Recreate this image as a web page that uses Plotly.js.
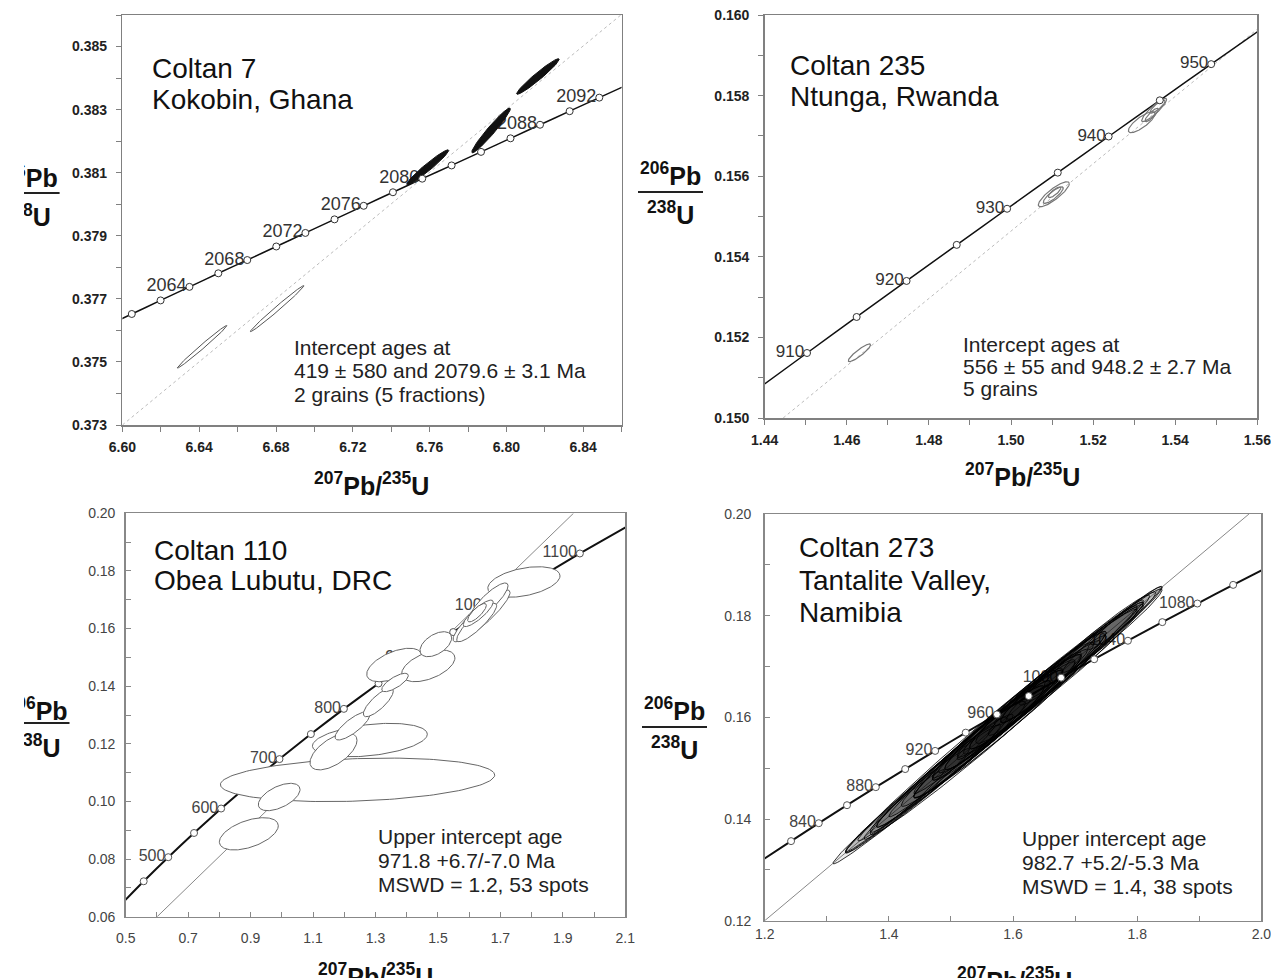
<!DOCTYPE html>
<html><head><meta charset="utf-8">
<script src="https://cdn.plot.ly/plotly-3.0.1.min.js"></script>
<style>html,body{margin:0;padding:0;background:#fff;overflow:hidden}</style>
</head><body><div id="chart" style="width:1271px;height:978px"></div>
<script>
// ---------------- DATA ----------------
// Panel 1: Coltan 7, Kokobin, Ghana (concordia points, Ma)
const p1Age = [2058,2060,2062,2064,2066,2068,2070,2072,2074,2076,2078,2080,2082,2084,2086,2088,2090,2092,2094];
const p1X = [6.58993,6.60489,6.61988,6.63491,6.64996,6.66504,6.68015,6.69530,6.71047,6.72567,6.74090,6.75616,6.77145,6.78678,6.80213,6.81751,6.83293,6.84837,6.86384];
const p1Y = [0.37609,0.37652,0.37695,0.37738,0.37781,0.37823,0.37866,0.37909,0.37952,0.37995,0.38038,0.38081,0.38123,0.38166,0.38209,0.38252,0.38295,0.38338,0.38381];
const p1Labels = [2064,2068,2072,2076,2080,2088,2092];
const p1DiscX = [6.60,6.86], p1DiscY = [0.373,0.38602];
const p1EllCx = [6.6415,6.6806,6.7590,6.7920,6.8164];
const p1EllCy = [0.37548,0.37669,0.38117,0.38234,0.38405];
const p1EllSx = [0.0129,0.01395,0.01095,0.01005,0.0111];
const p1EllSy = [0.000675,0.00073,0.000555,0.00071,0.000565];
const p1EllRho = [0.992,0.992,0.966,0.966,0.966];
const p1EllFilled = [false,false,true,true,true];

// Panel 2: Coltan 235, Ntunga, Rwanda
const p2Age = [905,910,915,920,925,930,935,940,945,950,955];
const p2X = [1.43827,1.45031,1.46240,1.47456,1.48678,1.49905,1.51139,1.52379,1.53625,1.54877,1.56135];
const p2Y = [0.150720,0.151613,0.152507,0.153401,0.154296,0.155192,0.156088,0.156985,0.157883,0.158781,0.159680];
const p2Labels = [910,920,930,940,950];
const p2DiscX = [1.4445,1.56], p2DiscY = [0.150,0.15965];
const p2EllCx = [1.46309,1.51043,1.51030,1.51060,1.53184,1.53488,1.53427,1.53569];
const p2EllCy = [0.151618,0.155553,0.155530,0.155600,0.157340,0.157643,0.157519,0.157725];
const p2EllSx = [0.00273,0.00378,0.00244,0.00150,0.00325,0.00305,0.00163,0.00183];
const p2EllSy = [0.000219,0.000310,0.000206,0.000130,0.000260,0.000290,0.000166,0.000161];
const p2EllRho = [0.90,0.85,0.85,0.80,0.80,0.90,0.85,0.85];

// Panel 3: Coltan 110, Obea Lubutu, DRC
const p3Age = [400,450,500,550,600,650,700,750,800,850,900,950,1000,1050,1100,1150];
const p3X = [0.48281,0.55766,0.63628,0.71887,0.80563,0.89677,0.99251,1.09308,1.19873,1.30971,1.42630,1.54876,1.67741,1.81255,1.95452,2.10365];
const p3Y = [0.06402,0.07230,0.08065,0.08906,0.09754,0.10609,0.11470,0.12338,0.13213,0.14094,0.14983,0.15878,0.16780,0.17690,0.18606,0.19530];
const p3Labels = [500,600,700,800,900,1000,1100];
const p3DiscX = [0.6007,1.934], p3DiscY = [0.06,0.20];
const p3EllCx = [1.2425,1.282,0.8943,0.9915,1.1655,1.3599,1.469,1.4932,1.2264,1.309,1.3625,1.7753,1.6395,1.6636,1.624,1.629,1.625];
const p3EllCy = [0.1075,0.1213,0.08876,0.10154,0.11735,0.14736,0.14706,0.15457,0.12624,0.13434,0.14128,0.17616,0.1644,0.16942,0.1621,0.16528,0.1655];
const p3EllSx = [0.4393,0.184,0.0944,0.0668,0.0753,0.0881,0.0853,0.0507,0.056,0.048,0.0426,0.1156,0.0913,0.0609,0.064,0.048,0.030];
const p3EllSy = [0.00755,0.0058,0.0056,0.00475,0.0064,0.0058,0.0055,0.00434,0.00491,0.00493,0.00319,0.0053,0.0090,0.0064,0.00666,0.0046,0.0032];
const p3EllRho = [0.22,0.35,0.5,0.55,0.6,0.55,0.5,0.5,0.8,0.8,0.75,0.4,0.9,0.85,0.88,0.85,0.8];

// Panel 4: Coltan 273, Tantalite Valley, Namibia
const p4Age = [800,820,840,860,880,900,920,940,960,980,1000,1020,1040,1060,1080,1100,1120];
const p4X = [1.19873,1.24247,1.28708,1.33257,1.37897,1.42629,1.47456,1.52378,1.57399,1.62519,1.67741,1.73067,1.78499,1.84039,1.89689,1.95451,2.01328];
const p4Y = [0.13213,0.13565,0.13918,0.14272,0.14627,0.14983,0.15340,0.15699,0.16058,0.16419,0.16781,0.17143,0.17507,0.17873,0.18239,0.18606,0.18975];
const p4Labels = [840,880,920,960,1000,1040,1080];
const p4DiscX = [1.2,1.98], p4DiscY = [0.12,0.20];
const p4EllCx = [1.575,1.58,1.60,1.56,1.62,1.55,1.64,1.59,1.61,1.53,1.66,1.57,1.63,1.60,1.54,1.68,1.58,1.62,1.50,1.70,1.65,1.56,1.61,1.47,1.72,1.59,1.64,1.52,1.45,1.74,1.43,1.76,1.66,1.57,1.41,1.78,1.62,1.54];
const p4EllCy = [0.15848,0.15939,0.16104,0.15654,0.16349,0.15591,0.16514,0.15961,0.16247,0.15386,0.16720,0.15756,0.16452,0.16104,0.15488,0.16885,0.15939,0.16309,0.15078,0.17090,0.16657,0.15694,0.16207,0.14730,0.17375,0.16001,0.16514,0.15243,0.14595,0.17540,0.14360,0.17706,0.16760,0.15796,0.14155,0.17951,0.16309,0.15488];
const p4EllSx = [0.265,0.23,0.20,0.19,0.18,0.17,0.17,0.15,0.14,0.15,0.15,0.13,0.12,0.11,0.12,0.12,0.10,0.09,0.13,0.11,0.08,0.09,0.07,0.11,0.10,0.06,0.06,0.08,0.12,0.09,0.10,0.08,0.05,0.05,0.08,0.06,0.04,0.05];
const p4EllSy = [0.0273,0.0237,0.0206,0.0196,0.0185,0.0175,0.0175,0.0155,0.0144,0.0155,0.0155,0.0134,0.0124,0.0113,0.0124,0.0124,0.0103,0.0093,0.0134,0.0113,0.0082,0.0093,0.0072,0.0113,0.0103,0.0062,0.0062,0.0082,0.0124,0.0093,0.0103,0.0082,0.0052,0.0052,0.0082,0.0062,0.0041,0.0052];
const p4EllRho = [0.996,0.994,0.993,0.99,0.992,0.99,0.99,0.985,0.985,0.988,0.988,0.98,0.98,0.975,0.98,0.98,0.97,0.965,0.985,0.98,0.96,0.965,0.95,0.985,0.98,0.95,0.95,0.97,0.99,0.98,0.985,0.975,0.94,0.94,0.985,0.97,0.93,0.95];

// ---------------- BUILD ----------------
const W = 1271, H = 978;
const PX = v => v / W, PY = v => 1 - v / H;
const fam = 'Liberation Sans, Arial, Helvetica, sans-serif';

function ellipse(cx, cy, sx, sy, r, n) {
  n = n || 120;
  const xs = [], ys = [], q = Math.sqrt(1 - r * r);
  for (let i = 0; i <= n; i++) {
    const t = 2 * Math.PI * i / n, c = Math.cos(t), s = Math.sin(t);
    xs.push(cx + sx * c); ys.push(cy + sy * (r * c + q * s));
  }
  return [xs, ys];
}
function pick(ages, arr, sel) { return sel.map(a => arr[ages.indexOf(a)]); }
function inner(arr) { return arr.slice(1, arr.length - 1); }

const traces = [];
function panel(k, o) {
  const xa = k === 1 ? 'x' : 'x' + k, ya = k === 1 ? 'y' : 'y' + k;
  const base = {xaxis: xa, yaxis: ya, showlegend: false, hoverinfo: 'skip'};
  traces.push(Object.assign({}, base, {type: 'scatter', mode: 'lines', x: o.dx, y: o.dy, line: o.discLine}));
  traces.push(Object.assign({}, base, {type: 'scatter', mode: 'lines', x: o.cx, y: o.cy,
    line: {color: '#111', width: o.concW, shape: 'spline', smoothing: 0.6}}));
  const markerTrace = Object.assign({}, base, {type: 'scatter', mode: 'markers', x: inner(o.cx), y: inner(o.cy),
    marker: {symbol: 'circle', size: o.mSize, color: '#fff', line: {color: o.mColor, width: 1}}});
  if (o.markersBelow) traces.push(markerTrace);
  traces.push(Object.assign({}, base, {type: 'scatter', mode: 'markers+text',
    x: pick(o.ages, o.cx, o.labels), y: pick(o.ages, o.cy, o.labels),
    text: o.labels.map(String), textposition: 'middle left',
    marker: {size: 3, color: 'rgba(0,0,0,0)'},
    textfont: {family: fam, size: o.labSize, color: o.labColor}}));
  o.ex.forEach((_, i) => {
    const e = ellipse(o.ex[i], o.ey[i], o.esx[i], o.esy[i], o.er[i], 160);
    const filled = o.efilled ? o.efilled[i] : false;
    traces.push(Object.assign({}, base, {type: 'scatter', mode: 'lines', x: e[0], y: e[1],
      fill: (filled || o.ellFill) ? 'toself' : 'none',
      fillcolor: filled ? '#111' : (o.ellFill || 'rgba(0,0,0,0)'),
      line: filled ? {color: '#111', width: 1} : o.ellLine}));
  });
  if (!o.markersBelow) traces.push(markerTrace);
}

panel(1, {cx: p1X, cy: p1Y, ages: p1Age, labels: p1Labels, dx: p1DiscX, dy: p1DiscY,
  discLine: {color: '#bbb', width: 1, dash: 'dot'}, concW: 1.5, mSize: 7, mColor: '#333',
  labSize: 18, labColor: '#333', ex: p1EllCx, ey: p1EllCy, esx: p1EllSx, esy: p1EllSy, er: p1EllRho,
  efilled: p1EllFilled, ellLine: {color: '#555', width: 1}});
panel(2, {cx: p2X, cy: p2Y, ages: p2Age, labels: p2Labels, dx: p2DiscX, dy: p2DiscY,
  discLine: {color: '#bbb', width: 1, dash: 'dot'}, concW: 1.5, mSize: 7, mColor: '#333',
  labSize: 17, labColor: '#333', ex: p2EllCx, ey: p2EllCy, esx: p2EllSx, esy: p2EllSy, er: p2EllRho,
  ellLine: {color: '#777', width: 1.2}});
panel(3, {cx: p3X, cy: p3Y, ages: p3Age, labels: p3Labels, dx: p3DiscX, dy: p3DiscY,
  discLine: {color: '#888', width: 1}, concW: 2, mSize: 7, mColor: '#555', markersBelow: true,
  labSize: 16, labColor: '#444', ex: p3EllCx, ey: p3EllCy, esx: p3EllSx, esy: p3EllSy, er: p3EllRho,
  ellFill: '#fff', ellLine: {color: '#666', width: 1}});
panel(4, {cx: p4X, cy: p4Y, ages: p4Age, labels: p4Labels, dx: p4DiscX, dy: p4DiscY,
  discLine: {color: '#888', width: 1}, concW: 2, mSize: 7, mColor: '#555',
  labSize: 16, labColor: '#444', ex: p4EllCx, ey: p4EllCy, esx: p4EllSx, esy: p4EllSy, er: p4EllRho,
  ellFill: 'rgba(0,0,0,0.07)', ellLine: {color: '#000', width: 0.8}});

function ax(o) {
  const bold = o.bold;
  return {
    domain: o.domain, range: o.range, anchor: o.anchor, tick0: o.tick0, dtick: o.dtick,
    tickformat: o.fmt, ticks: o.ticks, ticklen: 5, tickwidth: 1, tickcolor: o.lc,
    minor: {tick0: o.tick0, dtick: o.mdtick, ticks: o.ticks, ticklen: 5, tickwidth: 1, tickcolor: o.lc, showgrid: false},
    showline: true, mirror: true, linecolor: o.lc, linewidth: 1.5,
    showgrid: false, zeroline: false, fixedrange: true,
    ticklabelstandoff: o.standoff || 0, ticklabeloverflow: 'allow',
    tickfont: {family: fam, size: 14, color: bold ? '#222' : '#444', weight: bold ? 'bold' : 'normal'}
  };
}
function hiddenAx(domain, range, anchor) {
  return {domain: domain, range: range, anchor: anchor, visible: false, fixedrange: true, showgrid: false, zeroline: false};
}

const layout = {
  width: W, height: H, margin: {l: 0, r: 0, t: 0, b: 0}, autosize: false,
  paper_bgcolor: '#fff', plot_bgcolor: 'rgba(0,0,0,0)', showlegend: false,
  xaxis: ax({domain: [PX(122.4), PX(621.6)], range: [6.60, 6.86], anchor: 'y', tick0: 6.60, dtick: 0.04, mdtick: 0.02, fmt: '.2f', ticks: 'outside', lc: '#808080', bold: true, standoff: 4}),
  yaxis: ax({domain: [PY(425), PY(15)], range: [0.373, 0.386], anchor: 'x', tick0: 0.373, dtick: 0.002, mdtick: 0.001, fmt: '.3f', ticks: 'outside', lc: '#808080', bold: true, standoff: 6}),
  xaxis2: ax({domain: [PX(764.7), PX(1257.3)], range: [1.44, 1.5600001], anchor: 'y2', tick0: 1.44, dtick: 0.02, mdtick: 0.01, fmt: '.2f', ticks: 'outside', lc: '#808080', bold: true, standoff: 4}),
  yaxis2: ax({domain: [PY(418), PY(15)], range: [0.150, 0.160], anchor: 'x2', tick0: 0.150, dtick: 0.002, mdtick: 0.001, fmt: '.3f', ticks: 'outside', lc: '#808080', bold: true, standoff: 6}),
  xaxis3: ax({domain: [PX(125.7), PX(625.3)], range: [0.5, 2.1], anchor: 'y3', tick0: 0.5, dtick: 0.2, mdtick: 0.1, fmt: '.1f', ticks: 'inside', lc: '#888', bold: false, standoff: 8}),
  yaxis3: ax({domain: [PY(916.7), PY(513.3)], range: [0.06, 0.20], anchor: 'x3', tick0: 0.06, dtick: 0.02, mdtick: 0.01, fmt: '.2f', ticks: 'inside', lc: '#888', bold: false, standoff: 6}),
  xaxis4: ax({domain: [PX(764.7), PX(1261.4)], range: [1.2, 2.0000001], anchor: 'y4', tick0: 1.2, dtick: 0.2, mdtick: 0.1, fmt: '.1f', ticks: 'inside', lc: '#888', bold: false, standoff: 0}),
  yaxis4: ax({domain: [PY(920.7), PY(514)], range: [0.12, 0.20], anchor: 'x4', tick0: 0.12, dtick: 0.02, mdtick: 0.01, fmt: '.2f', ticks: 'inside', lc: '#888', bold: false, standoff: 9}),
  // hidden pixel-unit frames that hold the y titles cut by the left edge of the figure
  xaxis5: hiddenAx([PX(24), PX(80)], [24, 80], 'y5'),
  yaxis5: hiddenAx([PY(240), PY(150)], [240, 150], 'x5'),
  xaxis6: hiddenAx([PX(24), PX(85)], [24, 85], 'y6'),
  yaxis6: hiddenAx([PY(775), PY(680)], [775, 680], 'x6'),
  annotations: [], shapes: []
};

function txt(x, y, s, size, color, anchor) {
  layout.annotations.push({xref: 'paper', yref: 'paper', x: PX(x), y: PY(y), text: s, showarrow: false,
    xanchor: anchor || 'left', yanchor: 'middle', font: {family: fam, size: size, color: color || '#111'}});
}
txt(150.2, 68.3, 'Coltan 7', 28); txt(150.2, 99.2, 'Kokobin, Ghana', 28);
txt(788.3, 65.8, 'Coltan 235', 28); txt(788.3, 96.7, 'Ntunga, Rwanda', 28);
txt(151.8, 550, 'Coltan 110', 28); txt(151.8, 580.8, 'Obea Lubutu, DRC', 28);
txt(797.3, 547.5, 'Coltan 273', 28); txt(797.3, 580.8, 'Tantalite Valley,', 28); txt(797.3, 612.5, 'Namibia', 28);
txt(291.8, 347.7, 'Intercept ages at', 21, '#222'); txt(291.8, 370.8, '419 ± 580 and 2079.6 ± 3.1 Ma', 21, '#222'); txt(291.8, 394, '2 grains (5 fractions)', 21, '#222');
txt(960.7, 344.2, 'Intercept ages at', 21, '#222'); txt(960.7, 366.7, '556 ± 55 and 948.2 ± 2.7 Ma', 21, '#222'); txt(960.7, 388.3, '5 grains', 21, '#222');
txt(376.3, 836, 'Upper intercept age', 21, '#222'); txt(376.3, 860, '971.8 +6.7/-7.0 Ma', 21, '#222'); txt(376.3, 884, 'MSWD = 1.2, 53 spots', 21, '#222');
txt(1019.8, 838, 'Upper intercept age', 21, '#222'); txt(1019.8, 862.5, '982.7 +5.2/-5.3 Ma', 21, '#222'); txt(1019.8, 886, 'MSWD = 1.4, 38 spots', 21, '#222');

// x-axis titles
const xTitle = '<b><sup>207</sup>Pb/<sup>235</sup>U</b>';
[[371.5, 483.5], [1022, 474.5], [375.6, 974.5], [1014.7, 978.5]].forEach(p => {
  layout.annotations.push({xref: 'paper', yref: 'paper', x: PX(p[0]), y: PY(p[1]), text: xTitle, showarrow: false,
    xanchor: 'center', yanchor: 'middle', font: {family: fam, size: 25, color: '#111'}});
});
// y-axis fraction titles, right-hand panels (fully visible)
[[670.5, 192], [674.5, 727]].forEach(p => {
  layout.annotations.push({xref: 'paper', yref: 'paper', x: PX(p[0]), y: PY(p[1]), text: '<b><sup>206</sup>Pb</b>', showarrow: false,
    xanchor: 'center', yanchor: 'bottom', font: {family: fam, size: 25, color: '#111'}});
  layout.annotations.push({xref: 'paper', yref: 'paper', x: PX(p[0]), y: PY(p[1]), yshift: -3, text: '<b><sup>238</sup>U</b>', showarrow: false,
    xanchor: 'center', yanchor: 'top', font: {family: fam, size: 25, color: '#111'}});
  layout.shapes.push({type: 'line', xref: 'paper', yref: 'paper', x0: PX(p[0] - 32.5), x1: PX(p[0] + 32.5), y0: PY(p[1]), y1: PY(p[1]),
    line: {color: '#222', width: 2}});
});
// y-axis fraction titles, left-hand panels (cut by the figure's left edge)
[[5, 27.1, 193, 187, 226], [6, 37, 723, 719.5, 756.7]].forEach(p => {
  const b = {xaxis: 'x' + p[0], yaxis: 'y' + p[0], showlegend: false, hoverinfo: 'skip', type: 'scatter'};
  traces.push(Object.assign({}, b, {mode: 'lines', x: [p[1] - 32.5, p[1] + 32.5], y: [p[2], p[2]], line: {color: '#222', width: 2}}));
  traces.push(Object.assign({}, b, {mode: 'text', x: [p[1], p[1]], y: [p[3] - 6.25, p[4] - 6.25],
    text: ['<b><sup>206</sup>Pb</b>', '<b><sup>238</sup>U</b>'], textposition: 'middle center',
    textfont: {family: fam, size: 25, color: '#111'}}));
});

Plotly.newPlot('chart', traces, layout, {staticPlot: true, displayModeBar: false});
</script></body></html>
